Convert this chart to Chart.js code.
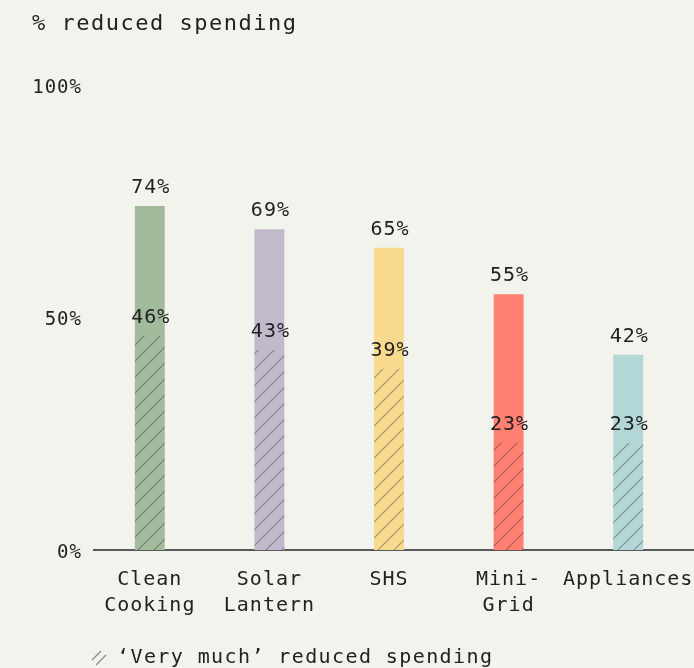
<!DOCTYPE html>
<html>
<head>
<meta charset="utf-8">
<script src="https://cdn.jsdelivr.net/npm/chart.js@4"></script>
<style>
  html, body { margin: 0; padding: 0; background: #f3f3ed; }
  #wrap { width: 694px; height: 668px; }
</style>
</head>
<body>
<div id="wrap"><canvas id="chart"></canvas></div>
<script>
const categories = [['Clean', 'Cooking'], ['Solar', 'Lantern'], 'SHS', ['Mini-', 'Grid'], 'Appliances'];
const reducedSpending = [74, 69, 65, 55, 42];
const veryMuchReduced = [46, 43, 39, 23, 23];
const barColors = ['#a2bb9d', '#c3b9cd', '#f7da8d', '#ff7f72', '#b3d7d6'];
const yTicks = [0, 50, 100];

const FONT = "'DejaVu Sans Mono', 'Liberation Mono', monospace";
const TEXT = '#222222';

// diagonal hatch, drawn over the solid bar
function makeHatch() {
    const c = document.createElement('canvas');
    c.width = 16; c.height = 16;
    const g = c.getContext('2d');
    g.strokeStyle = 'rgba(45,45,45,0.42)';
    g.lineWidth = 1.1;
    g.beginPath();
    g.moveTo(0, 16); g.lineTo(16, 0);
    g.moveTo(-4, 4); g.lineTo(4, -4);
    g.moveTo(12, 20); g.lineTo(20, 12);
    g.stroke();
    return g.createPattern(c, 'repeat');
}
const hatch = makeHatch();

// the reference font is wider than DejaVu, so spread the letters a bit
const spacing = {
    id: 'spacing',
    beforeUpdate(chart) { chart.ctx.letterSpacing = '1px'; },
    beforeDraw(chart) {
        const ctx = chart.ctx;
        ctx.letterSpacing = '1px';
        const a = chart.chartArea;
        ctx.save();
        ctx.strokeStyle = '#5a5a5a';
        ctx.lineWidth = 2;
        ctx.beginPath();
        ctx.moveTo(93, a.bottom);
        ctx.lineTo(694, a.bottom);
        ctx.stroke();
        ctx.restore();
    }
};

const valueLabels = {
    id: 'valueLabels',
    afterDatasetsDraw(chart) {
        const ctx = chart.ctx;
        ctx.save();
        ctx.font = '20px ' + FONT;
        ctx.fillStyle = TEXT;
        ctx.textAlign = 'center';
        ctx.textBaseline = 'middle';
        chart.data.datasets.forEach((ds, i) => {
            chart.getDatasetMeta(i).data.forEach((bar, j) => {
                ctx.fillText(ds.data[j] + '%', bar.x + 1, bar.y - 18);
            });
        });
        ctx.restore();
    }
};

const titleAndKey = {
    id: 'titleAndKey',
    afterDraw(chart) {
        const ctx = chart.ctx;
        ctx.save();
        ctx.fillStyle = TEXT;
        ctx.textBaseline = 'middle';
        ctx.textAlign = 'left';
        ctx.letterSpacing = '1.5px';
        ctx.font = '22px ' + FONT;
        ctx.fillText('% reduced spending', 32, 24);

        // key: hatch swatch + text
        ctx.strokeStyle = 'rgba(45,45,45,0.55)';
        ctx.lineWidth = 1.2;
        ctx.beginPath();
        ctx.moveTo(92, 660); ctx.lineTo(101, 651);
        ctx.moveTo(96, 665); ctx.lineTo(106, 655);
        ctx.stroke();
        ctx.letterSpacing = '1.4px';
        ctx.font = '20px ' + FONT;
        ctx.fillText('\u2018Very much\u2019 reduced spending', 117, 658);
        ctx.restore();
    }
};

new Chart(document.getElementById('chart'), {
    type: 'bar',
    data: {
        labels: categories,
        datasets: [
            {
                label: 'Very much reduced spending',
                data: veryMuchReduced,
                backgroundColor: hatch,
                grouped: false,
                order: 0
            },
            {
                label: 'Reduced spending',
                data: reducedSpending,
                backgroundColor: barColors,
                grouped: false,
                order: 1
            }
        ]
    },
    options: {
        responsive: true,
        maintainAspectRatio: false,
        animation: false,
        categoryPercentage: 1,
        barPercentage: 0.25,
        layout: { padding: { top: 85, right: 6, left: 0, bottom: 0 } },
        plugins: {
            legend: { display: false },
            tooltip: { enabled: false }
        },
        scales: {
            x: {
                grid: { display: false, drawTicks: false },
                border: { display: false },
                ticks: {
                    color: TEXT,
                    font: { family: FONT, size: 20, lineHeight: 1.3 },
                    padding: 17,
                    maxRotation: 0,
                    autoSkip: false
                },
                afterFit(scale) {
                    scale.height = 118;
                    scale.paddingLeft = 0;
                    scale.paddingRight = 0;
                }
            },
            y: {
                min: 0,
                max: 100,
                afterBuildTicks(axis) { axis.ticks = yTicks.map(v => ({ value: v })); },
                grid: { display: false, drawTicks: false },
                border: { display: false },
                ticks: {
                    color: TEXT,
                    font: { family: FONT, size: 19 },
                    padding: 8,
                    labelOffset: 3,
                    callback: v => v + '%'
                },
                afterFit(scale) {
                    scale.width = 90;
                    scale.paddingTop = 0;
                    scale.paddingBottom = 0;
                }
            }
        }
    },
    plugins: [spacing, valueLabels, titleAndKey]
});
</script>
</body>
</html>
